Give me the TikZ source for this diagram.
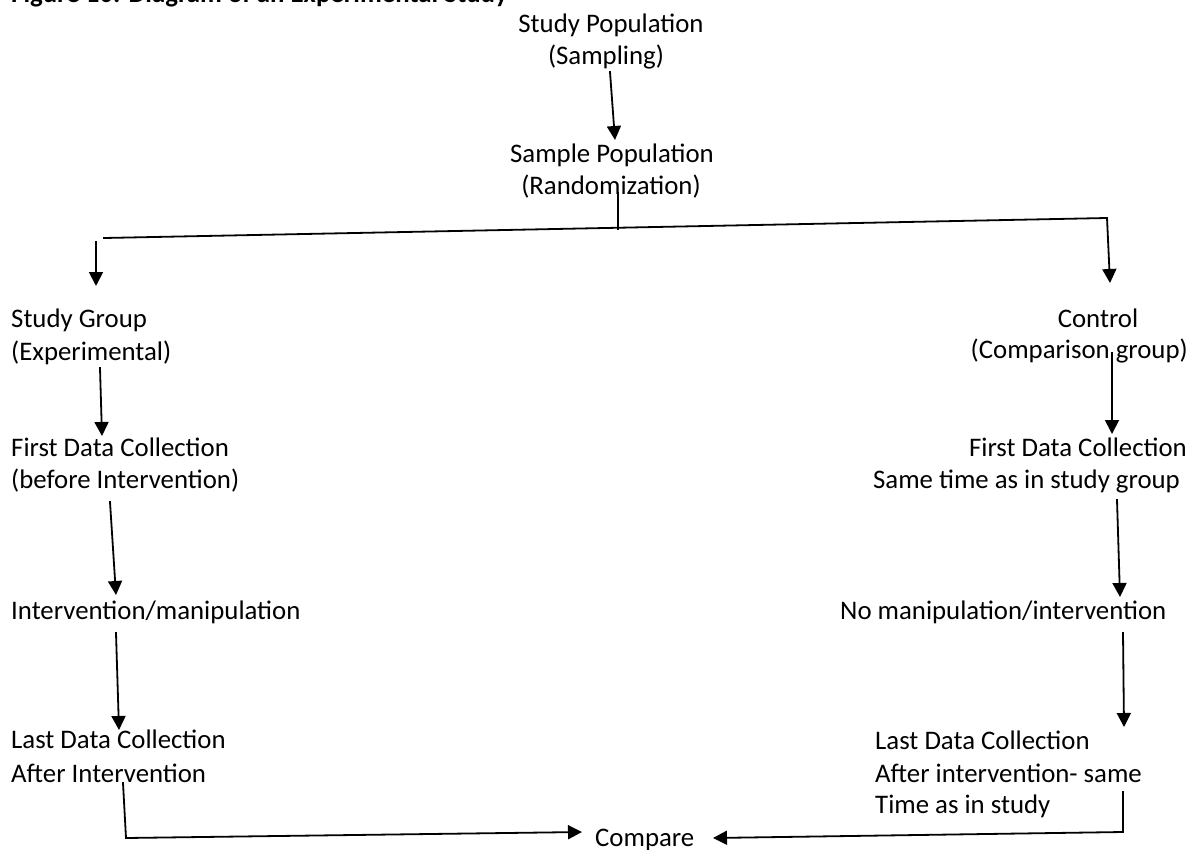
\documentclass[tikz,border=0pt]{standalone}
\usepackage{fontspec}
\setmainfont{Carlito}
\usetikzlibrary{arrows.meta}

\begin{document}
\begin{tikzpicture}[x=1pt,y=-1pt,
  txt/.style={inner sep=0pt,font=\fontsize{26.8}{32}\selectfont},
  lft/.style={txt,anchor=base west},
  ctr/.style={txt,anchor=base},
  rgt/.style={txt,anchor=base east},
  conn/.style={line width=1.8pt,line cap=rect},
  arr/.style={conn,-{Triangle[length=14pt,width=14pt]}}]

\useasboundingbox (0,0) rectangle (1190,850);
\clip (0,0) rectangle (1190,850);

% caption line at the top edge
\node[lft,font=\fontsize{26.8}{32}\selectfont\bfseries] (title) at (11,3)
  {Figure 10: Diagram of an Experimental Study};

% top of the tree
\node[ctr] (pop1) at (611,33) {Study Population};
\node[ctr] (pop2) at (606,65) {(Sampling)};
\node[ctr] (smp1) at (612,163) {Sample Population};
\node[ctr] (smp2) at (611,195) {(Randomization)};

% study group column
\node[lft] (sg1) at (11,327) {Study Group};
\node[lft] (sg2) at (11,360) {(Experimental)};
\node[lft] (fd1) at (11,456) {First Data Collection};
\node[lft] (fd2) at (11,488) {(before Intervention)};
\node[lft] (int) at (11,619) {Intervention/manipulation};
\node[lft] (ld1) at (11,748) {Last Data Collection};
\node[lft] (ld2) at (11,782) {After Intervention};

% control column
\node[ctr] (cg1) at (1098,327) {Control};
\node[rgt] (cg2) at (1188,358) {(Comparison group)};
\node[rgt] (cf1) at (1187,456) {First Data Collection};
\node[rgt] (cf2) at (1180,488) {Same time as in study group};
\node[lft] (nom) at (840,619) {No manipulation/intervention};
\node[lft] (cl1) at (875,749) {Last Data Collection};
\node[lft] (cl2) at (875,782) {After intervention- same};
\node[lft] (cl3) at (875,813) {Time as in study};

\node[lft] (cmp) at (595,846) {Compare};

% connector end points
\coordinate (popA) at (610,72);   \coordinate (popB) at (615,140);
\coordinate (smpA) at (618,193);  \coordinate (smpB) at (618,229);
\coordinate (barL) at (104,238);  \coordinate (barR) at (1107,218);
\coordinate (sgA)  at (96,242);   \coordinate (sgB)  at (96,286);
\coordinate (cgB)  at (1110,283);
\coordinate (fdA)  at (100,368);  \coordinate (fdB)  at (102,436);
\coordinate (cfA)  at (1112,353); \coordinate (cfB)  at (1112,434);
\coordinate (inA)  at (110,502);  \coordinate (inB)  at (116,595);
\coordinate (noA)  at (1117,500); \coordinate (noB)  at (1120,597);
\coordinate (ldA)  at (116,633);  \coordinate (ldB)  at (119,730);
\coordinate (clA)  at (1123,633); \coordinate (clB)  at (1124,727);
\coordinate (lbA)  at (123,783);  \coordinate (lbC)  at (126,838);
\coordinate (cmpL) at (582,832);
\coordinate (rbA)  at (1123,792); \coordinate (rbC)  at (1123,832);
\coordinate (cmpR) at (713,838);

% connectors
\draw[arr]  (popA) -- (popB);
\draw[conn] (smpA) -- (smpB);
\draw[arr]  (barL) -- (barR) -- (cgB);
\draw[arr]  (sgA) -- (sgB);
\draw[arr]  (fdA) -- (fdB);
\draw[arr]  (cfA) -- (cfB);
\draw[arr]  (inA) -- (inB);
\draw[arr]  (noA) -- (noB);
\draw[arr]  (ldA) -- (ldB);
\draw[arr]  (clA) -- (clB);
\draw[arr]  (lbA) -- (lbC) -- (cmpL);
\draw[arr]  (rbA) -- (rbC) -- (cmpR);
\end{tikzpicture}
\end{document}
